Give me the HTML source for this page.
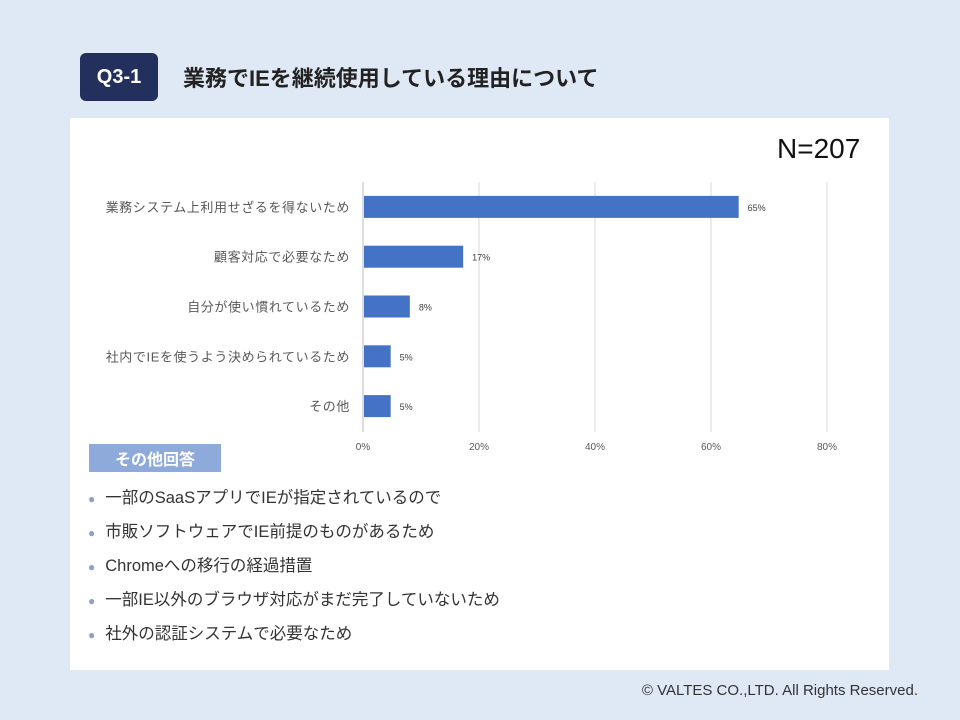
<!DOCTYPE html>
<html><head><meta charset="utf-8"><style>
body{margin:0;width:960px;height:720px;background:#dfe8f5;font-family:"Liberation Sans","Noto Sans CJK JP",sans-serif;position:relative;overflow:hidden}
.abs{position:absolute}
#badge{left:80px;top:53px;width:78px;height:48px;background:#23305e;border-radius:6px;color:#fff;font-weight:bold;font-size:20px;display:flex;align-items:center;justify-content:center}
#title{left:183px;top:61px;font-size:22px;font-weight:bold;color:#222;white-space:nowrap}
#panel{left:70px;top:118px;width:819px;height:552px;background:#fff}
#n{left:777px;top:133px;font-size:28px;color:#111}
#other{left:89px;top:444px;width:132px;height:28px;background:#8eaadb;color:#fff;font-weight:bold;font-size:16px;display:flex;align-items:center;justify-content:center}
.li{left:88px;font-size:16.5px;color:#333;white-space:nowrap}
.li span{color:#8ea0c8;font-size:12px;margin-right:10px}
#foot{right:42px;top:682px;font-size:15px;color:#333}
</style></head><body>
<div id="badge" class="abs">Q3-1</div>
<div id="title" class="abs">業務でIEを継続使用している理由について</div>
<div id="panel" class="abs"></div>
<div id="n" class="abs">N=207</div>
<svg class="abs" style="left:0;top:0" width="960" height="480">
<g id="g"></g></svg>
<div id="other" class="abs">その他回答</div>
<div class="abs li" style="top:484px"><span>●</span>一部のSaaSアプリでIEが指定されているので</div>
<div class="abs li" style="top:518px"><span>●</span>市販ソフトウェアでIE前提のものがあるため</div>
<div class="abs li" style="top:552px"><span>●</span>Chromeへの移行の経過措置</div>
<div class="abs li" style="top:586px"><span>●</span>一部IE以外のブラウザ対応がまだ完了していないため</div>
<div class="abs li" style="top:620px"><span>●</span>社外の認証システムで必要なため</div>
<div id="foot" class="abs">© VALTES CO.,LTD. All Rights Reserved.</div>
<script>
const categories=["業務システム上利用せざるを得ないため","顧客対応で必要なため","自分が使い慣れているため","社内でIEを使うよう決められているため","その他"];
const values=[64.6,17.1,7.9,4.6,4.6];
const ticks=[0,20,40,60,80];
const NS="http://www.w3.org/2000/svg";
const g=document.getElementById('g');
const x0=363,pxPer=5.8,yTop=182,yBot=432,band=49.8;
const X=v=>x0+v*pxPer;
const Y=i=>yTop+band*i+band/2;
function mk(t,a,txt){const e=document.createElementNS(NS,t);for(const k in a)e.setAttribute(k,a[k]);if(txt!=null)e.textContent=txt;g.appendChild(e);return e;}
ticks.forEach((t,i)=>{
 const l=mk('line',{x1:X(t),x2:X(t),y1:yTop,y2:yBot,stroke:i==0?'#bbb':'#d9d9d9','stroke-width':1});
 
 
 const tx=mk('text',{x:X(t),y:450,'text-anchor':'middle','font-size':10,fill:'#595959','font-family':'Liberation Sans, sans-serif'},t+'%');
 
 
});
categories.forEach((c,i)=>{
 const y=Y(i);
 const r=mk('rect',{x:X(0)+1,y:y-11,width:values[i]*pxPer,height:22,fill:'#4472c4'});
 
 
 const lb=mk('text',{x:350,y:y+5,'text-anchor':'end','font-size':13,'letter-spacing':'0.6',fill:'#595959','font-family':'Liberation Sans, Noto Sans CJK JP, sans-serif'},c);
 
 
 const v=mk('text',{x:X(values[i])+10,y:y+4,'font-size':9,fill:'#404040','font-family':'Liberation Sans, sans-serif'},Math.round(values[i])+'%');
 
 
});
</script>
</body></html>
